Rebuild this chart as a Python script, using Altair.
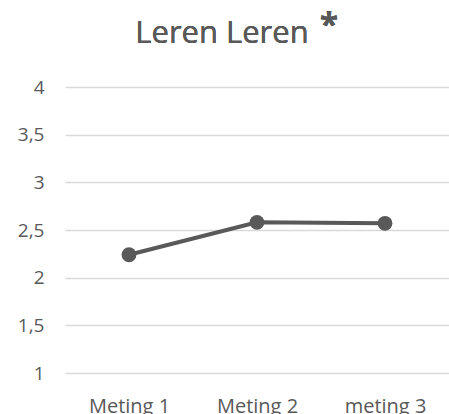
import altair as alt
import pandas as pd

# Scores per measurement moment
metingen = ["Meting 1", "Meting 2", "meting 3"]
scores = [2.24, 2.58, 2.57]

df = pd.DataFrame({"meting": metingen, "score": scores})

GREY = "#595959"
GRID = "#d9d9d9"
FONT = "Open Sans"

x = alt.X(
    "meting:N",
    sort=metingen,
    scale=alt.Scale(type="point", padding=0.5),
    axis=alt.Axis(
        title=None,
        labelAngle=0,
        ticks=False,
        domain=False,
        grid=False,
        labelFont=FONT,
        labelFontSize=20,
        labelColor=GREY,
        labelPadding=23,
    ),
)
y = alt.Y(
    "score:Q",
    scale=alt.Scale(domain=[1, 4], nice=False, zero=False),
    axis=alt.Axis(
        title=None,
        values=[1, 1.5, 2, 2.5, 3, 3.5, 4],
        labelExpr="replace(format(datum.value, '~g'), '.', ',')",
        domain=False,
        ticks=False,
        grid=True,
        gridColor=GRID,
        gridWidth=1.5,
        labelFont=FONT,
        labelFontSize=19,
        labelColor=GREY,
        labelPadding=21,
    ),
)

base = alt.Chart(df).encode(x=x, y=y)
line = base.mark_line(color=GREY, strokeWidth=4)
dots = base.mark_point(filled=True, shape="circle", size=220, color=GREY, opacity=1)

# Chart heading: plain title text plus a bold asterisk
heading = alt.Chart(df).mark_text(
    text="Leren Leren", font=FONT, fontSize=31, color=GREY,
    align="center", baseline="alphabetic",
).encode(x=alt.value(157), y=alt.value(-44))
star = alt.Chart(df).mark_text(
    text="*", font=FONT, fontSize=33, fontWeight="bold", color=GREY,
    align="left", baseline="alphabetic",
).encode(x=alt.value(255), y=alt.value(-51))

chart = (
    alt.layer(line, dots, heading, star)
    .properties(
        width=384,
        height=286,
        background="white",
        autosize=alt.AutoSizeParams(type="none"),
        padding={"left": 65, "top": 87, "right": 0, "bottom": 41},
    )
    .configure_view(strokeWidth=0, stroke="transparent")
    .configure_axis(domain=False, ticks=False)
)

chart.save("out.html", embed_options={"renderer": "svg", "actions": False})
